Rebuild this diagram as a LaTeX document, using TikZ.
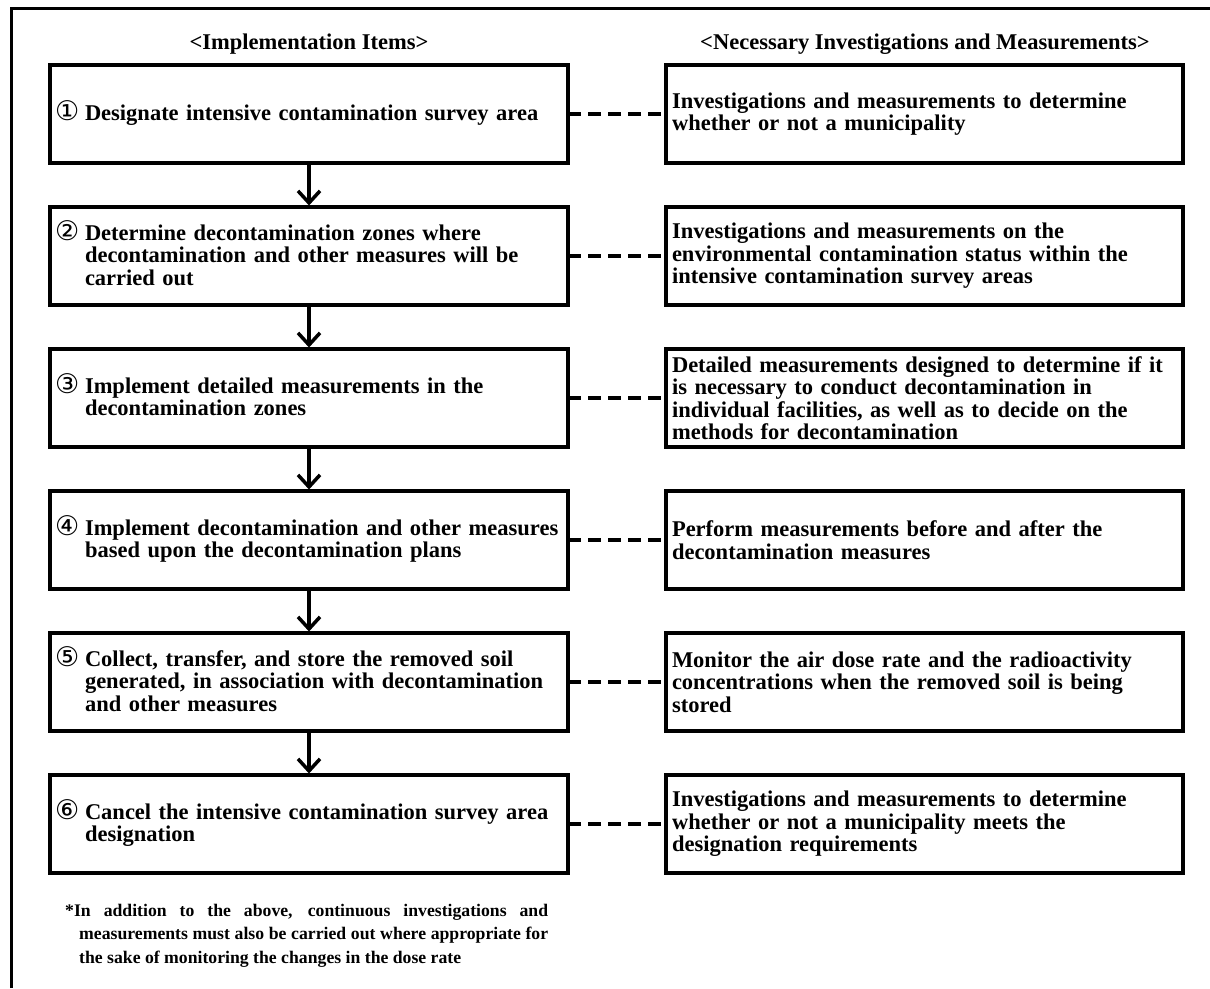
\documentclass[tikz,border=0pt]{standalone}
\usepackage{fontspec}
\setmainfont{Liberation Serif}
\newfontfamily\symfont{DejaVu Sans}
\usetikzlibrary{arrows.meta}
\newcommand{\numitem}[2]{\makebox[30pt][l]{\symfont\mdseries\fontsize{27}{22.5}\selectfont #1}\begin{tabular}[t]{@{}l@{}}#2\end{tabular}}
\begin{document}
\begin{tikzpicture}[x=1pt,y=-1pt,
  body/.style={font=\fontsize{22.5}{22.5}\selectfont\bfseries},
  box/.style={draw,line width=3.5pt,outer sep=0pt,anchor=north west,minimum height=98pt,
    inner ysep=0pt,align=left,body},
  lbox/.style={box,inner xsep=5pt,text width=508pt},
  rbox/.style={box,inner xsep=6pt,text width=505pt},
  hdr/.style={inner sep=0pt,body},
  conn/.style={line width=3.5pt,dash pattern=on 13pt off 7pt},
  flow/.style={line width=3.5pt,shorten >=1.5pt,-{Straight Barb[length=12pt,width=22pt,line width=3.5pt]}}
]
\useasboundingbox (0,0) rectangle (1210,988);
% outer frame
\draw[line width=3pt] (11.5,988) -- (11.5,8.5) -- (1210,8.5);
% headers
\node[hdr] (hL) at (309,44) {<Implementation Items>};
\node[hdr] (hR) at (925,44) {<Necessary Investigations and Measurements>};
% left boxes
\node[lbox] (L1) at (50,65)  {\numitem{①}{Designate intensive contamination survey area}};
\node[lbox] (L2) at (50,207) {\numitem{②}{Determine decontamination zones where\\decontamination and other measures will be\\carried out}};
\node[lbox] (L3) at (50,349) {\numitem{③}{Implement detailed measurements in the\\decontamination zones}};
\node[lbox] (L4) at (50,491) {\numitem{④}{Implement decontamination and other measures\\based upon the decontamination plans}};
\node[lbox] (L5) at (50,633) {\numitem{⑤}{Collect, transfer, and store the removed soil\\generated, in association with decontamination\\and other measures}};
\node[lbox] (L6) at (50,775) {\numitem{⑥}{Cancel the intensive contamination survey area\\designation}};
% right boxes
\node[rbox] (R1) at (666,65)  {Investigations and measurements to determine\\whether or not a municipality};
\node[rbox] (R2) at (666,207) {Investigations and measurements on the\\environmental contamination status within the\\intensive contamination survey areas};
\node[rbox] (R3) at (666,349) {Detailed measurements designed to determine if it\\is necessary to conduct decontamination in\\individual facilities, as well as to decide on the\\methods for decontamination};
\node[rbox] (R4) at (666,491) {Perform measurements before and after the\\decontamination measures};
\node[rbox] (R5) at (666,633) {Monitor the air dose rate and the radioactivity\\concentrations when the removed soil is being\\stored};
\node[rbox] (R6) at (666,775) {Investigations and measurements to determine\\whether or not a municipality meets the\\designation requirements};
% flow arrows
\foreach \a/\b in {L1/L2,L2/L3,L3/L4,L4/L5,L5/L6}
  \draw[flow] (\a.south) -- (\b.north);
% dashed links
\foreach \i in {1,...,6}
  \draw[conn] (L\i.east) -- (R\i.west);
% footnote
\node[anchor=north west,inner sep=0pt,align=left,font=\fontsize{17.7}{23.3}\selectfont\bfseries] (note) at (65,904)
  {\makebox[483pt][s]{*In addition to the above, continuous investigations and}\\
   \hspace*{14pt}\makebox[469pt][s]{measurements must also be carried out where appropriate for}\\
   \hspace*{14pt}the sake of monitoring the changes in the dose rate};
\end{tikzpicture}
\end{document}
